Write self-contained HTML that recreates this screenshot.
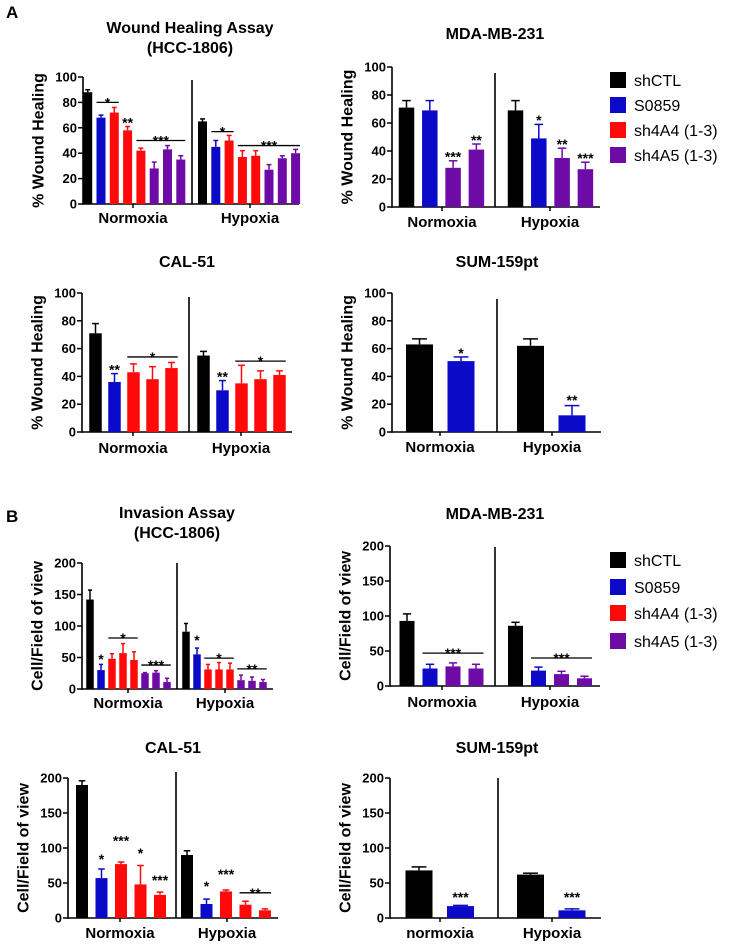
<!DOCTYPE html>
<html><head><meta charset="utf-8"><style>
html,body{margin:0;padding:0;background:#fff;}
svg text{font-family:"Liberation Sans",Arial,sans-serif;font-weight:bold;fill:#000;}
</style></head><body>
<svg id="fig" width="729" height="941" viewBox="0 0 729 941" xmlns="http://www.w3.org/2000/svg">
<text x="6" y="18" font-size="17">A</text>
<text x="6" y="522" font-size="17">B</text>
</svg>
<script>
// ---- data ----
const conditions = ["Normoxia","Hypoxia"];
const legendLabels = ["shCTL","S0859","sh4A4 (1-3)","sh4A5 (1-3)"];
const ticksPct = [0,20,40,60,80,100];
const ticksCells = [0,50,100,150,200];

const wHccSeries = ["shCTL","S0859","sh4A4","sh4A4","sh4A4","sh4A5","sh4A5","sh4A5"];
const wHccNorm = [88,68,72,58,42,28,43,35];
const wHccNormErr = [2,2,4,3,2,5,3,3];
const wHccHyp = [65,45,50,37,38,27,36,40];
const wHccHypErr = [2,5,4,5,4,4,2,3];
const wHccAnn = [[0,"*",1,2,80],[0,"**",3,3,64],[0,"***",4,7,50],[1,"*",1,2,57],[1,"***",3,7,46]];

const wMdaSeries = ["shCTL","S0859","sh4A5","sh4A5"];
const wMdaNorm = [71,69,28,41];
const wMdaNormErr = [5,7,5,4];
const wMdaHyp = [69,49,35,27];
const wMdaHypErr = [7,10,7,5];
const wMdaAnn = [[0,"***",2,2,36],[0,"**",3,3,48],[1,"*",1,1,62],[1,"**",2,2,45],[1,"***",3,3,35]];

const wCalSeries = ["shCTL","S0859","sh4A4","sh4A4","sh4A4"];
const wCalNorm = [71,36,43,38,46];
const wCalNormErr = [7,6,6,9,4];
const wCalHyp = [55,30,35,38,41];
const wCalHypErr = [3,7,13,6,3];
const wCalAnn = [[0,"**",1,1,45],[0,"*",2,4,54],[1,"**",1,1,40],[1,"*",2,4,51]];

const wSumSeries = ["shCTL","S0859"];
const wSumNorm = [63,51];
const wSumNormErr = [4,3];
const wSumHyp = [62,12];
const wSumHypErr = [5,7];
const wSumAnn = [[0,"*",1,1,57],[1,"**",1,1,23]];

const iHccSeries = ["shCTL","S0859","sh4A4","sh4A4","sh4A4","sh4A5","sh4A5","sh4A5"];
const iHccNorm = [142,30,48,57,46,25,26,11];
const iHccNormErr = [15,9,8,15,13,1,3,6];
const iHccHyp = [91,55,31,31,31,14,13,11];
const iHccHypErr = [13,10,8,11,10,8,6,4];
const iHccAnn = [[0,"*",1,1,48],[0,"*",2,4,81],[0,"***",5,7,38],[1,"*",1,1,78],[1,"*",2,4,49],[1,"**",5,7,32]];

const iMdaSeries = ["shCTL","S0859","sh4A5","sh4A5"];
const iMdaNorm = [93,25,28,25];
const iMdaNormErr = [10,6,5,6];
const iMdaHyp = [86,22,17,11];
const iMdaHypErr = [5,5,4,3];
const iMdaAnn = [[0,"***",1,3,47],[1,"***",1,3,40]];

const iCalSeries = ["shCTL","S0859","sh4A4","sh4A4","sh4A4"];
const iCalNorm = [190,57,77,48,33];
const iCalNormErr = [6,13,3,27,4];
const iCalHyp = [90,20,38,19,11];
const iCalHypErr = [6,7,2,5,2];
const iCalAnn = [[0,"*",1,1,84],[0,"***",2,2,111],[0,"*",3,3,93],[0,"***",4,4,54],[1,"*",1,1,46],[1,"***",2,2,63],[1,"**",3,4,36]];

const iSumSeries = ["shCTL","S0859"];
const iSumNorm = [68,17];
const iSumNormErr = [5,1];
const iSumHyp = [62,11];
const iSumHypErr = [2,2];
const iSumAnn = [[0,"***",1,1,30],[1,"***",1,1,30]];

// ---- styles ----
const COLORS = {shCTL:"#000000",S0859:"#0a0ac8",sh4A4:"#ff0a0a",sh4A5:"#6e0aa5"};
const legendColors = ["#000000","#0a0ac8","#ff0a0a","#6e0aa5"];
const NS = "http://www.w3.org/2000/svg";
const svg = document.getElementById("fig");

function mk(tag, attrs, parent){
  const e = document.createElementNS(NS, tag);
  for (const k in attrs) e.setAttribute(k, attrs[k]);
  (parent||svg).appendChild(e);
  return e;
}

function panel(c){
  const g = mk("g", {});
  
  
  const y = v => c.y0 - v / c.max * (c.y0 - c.yT);
  // title
  c.title.forEach((t, i) => {
    const tt = mk("text", {x:c.tx, y:c.ty + i*20 + 6, "font-size":16, "text-anchor":"middle"}, g);
    tt.textContent = t;
    
    
  });
  // y title
  const yt = mk("text", {x:0, y:0, "font-size":16, "text-anchor":"middle", transform:`translate(${c.ax-44},${(c.y0+c.yT)/2}) rotate(-90)`, "dominant-baseline":"central"}, g);
  yt.textContent = c.ytitle;
  
  
  // axes
  const ya = mk("line", {x1:c.ax, y1:y(c.max), x2:c.ax, y2:c.y0+0.8, stroke:"#000", "stroke-width":1.6}, g);
  
  
  const xa = mk("line", {x1:c.ax, y1:c.y0, x2:c.xEnd, y2:c.y0, stroke:"#000", "stroke-width":1.6}, g);
  
  
  const dv = mk("line", {x1:c.div, y1:c.divTop, x2:c.div, y2:c.y0, stroke:"#000", "stroke-width":1.6}, g);
  
  
  c.ticks.forEach(t => {
    mk("line", {x1:c.ax-5, y1:y(t), x2:c.ax, y2:y(t), stroke:"#000", "stroke-width":1.5}, g);
    const tl = mk("text", {x:c.ax-6, y:y(t)+4.5, "font-size":13, "text-anchor":"end"}, g);
    tl.textContent = t;
    
    
  });
  // groups
  const groups = [[c.norm, c.normErr], [c.hyp, c.hypErr]];
  groups.forEach((gr, gi) => {
    const [vals, errs] = gr;
    const lx = c.labX[gi];
    mk("line", {x1:lx, y1:c.y0, x2:lx, y2:c.y0+4, stroke:"#000", "stroke-width":1.5}, g);
    const gl = mk("text", {x:lx, y:c.labY+5, "font-size":15, "text-anchor":"middle"}, g);
    gl.textContent = (c.labels || conditions)[gi];
    
    
    vals.forEach((v, i) => {
      const cx = c.start[gi] + i * c.pitch;
      const col = COLORS[c.series[i]];
      const r = mk("rect", {x:cx-c.bw/2, y:y(v), width:c.bw, height:c.y0-y(v), fill:col}, g);
      
      
      const e = errs[i];
      const el = mk("line", {x1:cx, y1:y(v), x2:cx, y2:y(v+e), stroke:col, "stroke-width":1.5}, g);
      
      
      const cw = Math.max(4, c.bw*0.55);
      mk("line", {x1:cx-cw/2, y1:y(v+e), x2:cx+cw/2, y2:y(v+e), stroke:col, "stroke-width":1.5}, g);
    });
  });
  // annotations
  c.ann.forEach(a => {
    const [gi, label, i0, i1, v] = a;
    const x0 = c.start[gi] + i0*c.pitch, x1 = c.start[gi] + i1*c.pitch;
    if (i1 > i0) {
      const ln = mk("line", {x1:x0-c.bw/2, y1:y(v), x2:x1+c.bw/2, y2:y(v), stroke:"#000", "stroke-width":1.3}, g);
      
      
    }
    const st = mk("text", {x:(x0+x1)/2, y:y(v)+5, "font-size":14, "text-anchor":"middle"}, g);
    st.textContent = label;
    
    
  });
}

function legend(ys, nm){
  const g = mk("g", {});
  
  
  legendLabels.forEach((l, i) => {
    const r = mk("rect", {x:610, y:ys[i]-8, width:16, height:16, fill:legendColors[i]}, g);
    
    
    const t = mk("text", {x:634, y:ys[i]+6, "font-size":16, "font-weight":"normal", style:"font-weight:normal"}, g);
    t.textContent = l;
    
    
  });
}

const WH = "% Wound Healing", CF = "Cell/Field of view";
panel({name:"wound-hcc1806-chart", title:["Wound Healing Assay","(HCC-1806)"], tx:190, ty:27, ytitle:WH,
  ax:83, y0:204, yT:77, max:100, ticks:ticksPct, xEnd:299, div:192, divTop:80,
  start:[87.7,202.5], pitch:13.3, bw:9, labX:[133,250], labY:218,
  series:wHccSeries, norm:wHccNorm, normErr:wHccNormErr, hyp:wHccHyp, hypErr:wHccHypErr, ann:wHccAnn});
panel({name:"wound-mda-chart", title:["MDA-MB-231"], tx:495, ty:33, ytitle:WH,
  ax:392, y0:207, yT:67, max:100, ticks:ticksPct, xEnd:600, div:495, divTop:73,
  start:[406.5,515.5], pitch:23.3, bw:15.5, labX:[442,550], labY:222,
  series:wMdaSeries, norm:wMdaNorm, normErr:wMdaNormErr, hyp:wMdaHyp, hypErr:wMdaHypErr, ann:wMdaAnn});
panel({name:"wound-cal51-chart", title:["CAL-51"], tx:187, ty:261, ytitle:WH,
  ax:82, y0:432, yT:293, max:100, ticks:ticksPct, xEnd:292, div:189, divTop:297,
  start:[95.5,203.5], pitch:19, bw:12.5, labX:[133,241], labY:448,
  series:wCalSeries, norm:wCalNorm, normErr:wCalNormErr, hyp:wCalHyp, hypErr:wCalHypErr, ann:wCalAnn});
panel({name:"wound-sum159-chart", title:["SUM-159pt"], tx:497, ty:261, ytitle:WH,
  ax:392, y0:432, yT:293, max:100, ticks:ticksPct, xEnd:601, div:497, divTop:299,
  start:[419.5,530.5], pitch:41.5, bw:27, labX:[440,552], labY:447,
  series:wSumSeries, norm:wSumNorm, normErr:wSumNormErr, hyp:wSumHyp, hypErr:wSumHypErr, ann:wSumAnn});
panel({name:"invasion-hcc1806-chart", title:["Invasion Assay","(HCC-1806)"], tx:177, ty:512, ytitle:CF,
  ax:82, y0:689, yT:563, max:200, ticks:ticksCells, xEnd:273, div:177, divTop:563,
  start:[90,186], pitch:11, bw:7.5, labX:[128,225], labY:703,
  series:iHccSeries, norm:iHccNorm, normErr:iHccNormErr, hyp:iHccHyp, hypErr:iHccHypErr, ann:iHccAnn});
panel({name:"invasion-mda-chart", title:["MDA-MB-231"], tx:495, ty:513, ytitle:CF,
  ax:390, y0:686, yT:546, max:200, ticks:ticksCells, xEnd:600, div:495, divTop:547,
  start:[407,515.5], pitch:23, bw:15, labX:[442,550], labY:702,
  series:iMdaSeries, norm:iMdaNorm, normErr:iMdaNormErr, hyp:iMdaHyp, hypErr:iMdaHypErr, ann:iMdaAnn});
panel({name:"invasion-cal51-chart", title:["CAL-51"], tx:173, ty:747, ytitle:CF,
  ax:68, y0:918, yT:778, max:200, ticks:ticksCells, xEnd:278, div:176, divTop:772,
  start:[82,187], pitch:19.5, bw:12, labX:[120,227], labY:933,
  series:iCalSeries, norm:iCalNorm, normErr:iCalNormErr, hyp:iCalHyp, hypErr:iCalHypErr, ann:iCalAnn});
panel({name:"invasion-sum159-chart", title:["SUM-159pt"], tx:497, ty:747, ytitle:CF,
  ax:390, y0:918, yT:778, max:200, ticks:ticksCells, xEnd:601, div:498, divTop:778,
  start:[419,530.5], pitch:41.5, bw:27, labX:[440,552], labY:933, labels:["normoxia","Hypoxia"],
  series:iSumSeries, norm:iSumNorm, normErr:iSumNormErr, hyp:iSumHyp, hypErr:iSumHypErr, ann:iSumAnn});
legend([80,105,130,155], "legend-wound");
legend([560,587,613,641], "legend-invasion");
</script>
</body></html>
